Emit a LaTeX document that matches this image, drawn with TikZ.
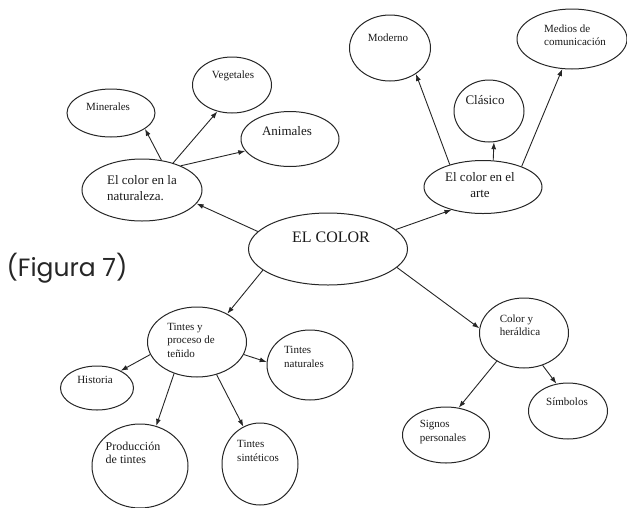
\documentclass[tikz,border=0pt]{standalone}
\usepackage{fontspec}
\setmainfont{Liberation Serif}
\newfontfamily\figfont{Poppins}
\usetikzlibrary{shapes.geometric,arrows.meta}

\tikzset{
  bub/.style={ellipse, draw=black!85, line width=1pt, inner sep=0pt},
  lbl/.style={inner sep=0pt, align=left, text=black!90, font=\fontsize{11}{13.5}\selectfont},
  big/.style={lbl, font=\fontsize{13}{16}\selectfont},
  arr/.style={-{Latex[length=7pt,width=5pt]}, line width=0.9pt, draw=black!85},
}

\begin{document}
\begin{tikzpicture}[x=1pt,y=-1pt]
        \useasboundingbox (0,0) rectangle (627,507);

        % bubbles
        \node(col)[bub, minimum width=159, minimum height=72] at (328,249) {};
        \node(nat)[bub, minimum width=120, minimum height=62] at (142,190) {};
        \node(arte)[bub, minimum width=118, minimum height=53] at (483,187) {};
        \node(tin)[bub, minimum width=99, minimum height=70] at (197,342) {};
        \node(her)[bub, minimum width=89, minimum height=70] at (524,333) {};
        \node(min)[bub, minimum width=88, minimum height=48] at (111,113) {};
        \node(veg)[bub, minimum width=79, minimum height=56] at (232,85) {};
        \node(ani)[bub, minimum width=98, minimum height=55] at (290,139) {};
        \node(mod)[bub, minimum width=81, minimum height=66] at (390,48) {};
        \node(cla)[bub, minimum width=70, minimum height=62] at (489,111) {};
        \node(med)[bub, minimum width=110, minimum height=60] at (572,39) {};
        \node(his)[bub, minimum width=73, minimum height=44] at (97,388) {};
        \node(nattin)[bub, minimum width=86, minimum height=70] at (310,365) {};
        \node(pro)[bub, minimum width=96, minimum height=84] at (140,466) {};
        \node(sin)[bub, minimum width=76, minimum height=82] at (260,464) {};
        \node(sig)[bub, minimum width=87, minimum height=56] at (446,435) {};
        \node(sim)[bub, minimum width=79, minimum height=56] at (568,411) {};

        % texts
        \node(coltxt)[lbl, font=\fontsize{16}{19}\selectfont] at (331,237) {EL COLOR};
        \node(nattxt)[big] at (142,188) {El color en la\\naturaleza.};
        \node(artetxt)[big, align=center] at (480,185) {El color en el\\arte};
        \node(tintxt)[lbl] at (191,340) {Tintes y\\proceso de\\teñido};
        \node(hertxt)[lbl] at (520,325) {Color y\\heráldica};
        \node(mintxt)[lbl] at (108,107) {Minerales};
        \node(vegtxt)[lbl] at (233,76) {Vegetales};
        \node(anitxt)[big] at (287,131) {Animales};
        \node(modtxt)[lbl] at (388,38) {Moderno};
        \node(clatxt)[big] at (485,100) {Clásico};
        \node(medtxt)[lbl] at (575,35) {Medios de\\comunicación};
        \node(histxt)[lbl] at (95,380) {Historia};
        \node(nattintxt)[lbl] at (304,357) {Tintes\\naturales};
        \node(protxt)[lbl, font=\fontsize{12}{13.5}\selectfont] at (133,453) {Producción\\de tintes};
        \node(sintxt)[lbl] at (258,451) {Tintes\\sintéticos};
        \node(simtxt)[lbl] at (567,402) {Símbolos};
        \node(sigtxt)[lbl] at (443,432) {Signos\\personales};

        \node(fig)[inner sep=0pt, text=black!85] at (67,268) {\figfont\fontsize{25}{30}\selectfont (Figura 7)};

        % arrows
        \draw[arr] (col.166) -- (nat.346);
        \draw[arr] (col.16) -- (arte.216);
        \draw[arr] (col.198) -- (tin.43);
        \draw[arr] (col.345) -- (her.174);
        \draw[arr] (nat.57) -- (min.335);
        \draw[arr] (nat.41) -- (veg.241);
        \draw[arr] (nat.32) -- (ani.195);
        \draw[arr] (arte.146) -- (mod.315);
        \draw[arr] (arte.69) -- (cla.279);
        \draw[arr] (arte.28) -- (med.252);
        \draw[arr] (tin.195) -- (his.36);
        \draw[arr] (tin.345) -- (nattin.176);
        \draw[arr] (tin.234) -- (pro.68);
        \draw[arr] (tin.301) -- (sin.114);
        \draw[arr] (her.226) -- (sig.65);
        \draw[arr] (her.300) -- (sim.113);
\end{tikzpicture}
\end{document}
